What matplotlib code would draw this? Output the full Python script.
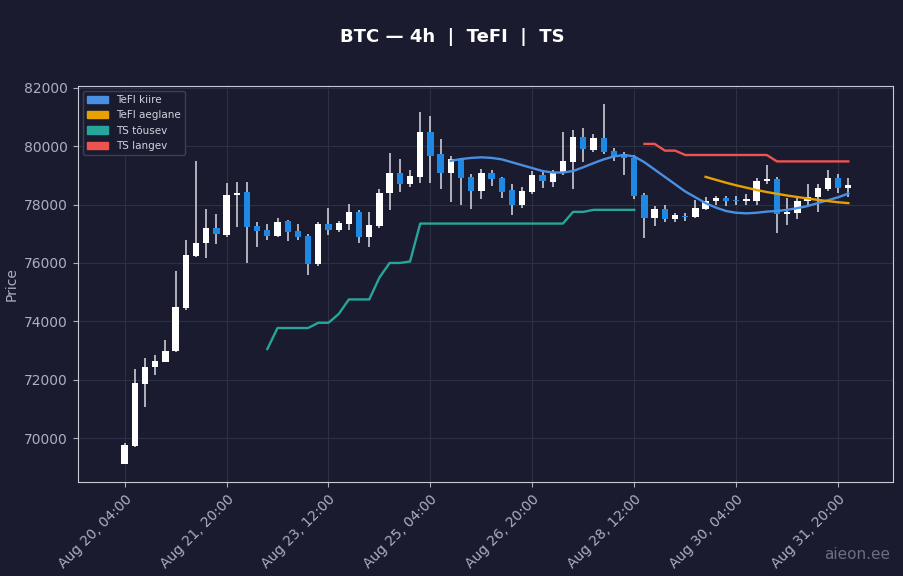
import numpy as np
import pandas as pd
import matplotlib
matplotlib.use("Agg")
import matplotlib.pyplot as plt
from matplotlib.patches import Patch

# 4h candles starting Aug 20 04:00
start = "2024-08-20 04:00"
opens = [69110, 69730, 71850, 72430, 72600, 72980, 74460, 76240, 76690, 77200,
         76960, 78320, 78430, 77270, 77130, 76930, 77440, 77100, 76930, 75960,
         77340, 77130, 77340, 77750, 76890, 77270, 78400, 79090, 78710, 78950,
         80490, 79740, 79090, 79530, 78950, 78470, 79090, 78910, 78500, 77990,
         78430, 79020, 78780, 79090, 79470, 80320, 79870, 80290, 79840, 79740,
         79600, 78330, 77540, 77850, 77510, 77620, 77580, 77850, 78130, 78230,
         78150, 78120, 78130, 78810, 78880, 77680, 77720, 78130, 78270, 78540,
         78900, 78570]
closes = [69760, 71880, 72430, 72640, 72980, 74490, 76270, 76690, 77200, 76990,
          78330, 78400, 77230, 77100, 76930, 77400, 77060, 76890, 75970, 77340,
          77130, 77370, 77750, 76890, 77300, 78400, 79090, 78710, 78980, 80490,
          79670, 79090, 79570, 78910, 78470, 79090, 78880, 78430, 77990, 78470,
          79020, 78810, 79090, 79500, 80320, 79910, 80290, 79810, 79670, 79600,
          78300, 77540, 77850, 77510, 77650, 77580, 77890, 78130, 78230, 78130,
          78120, 78200, 78810, 78880, 77680, 77750, 78130, 78270, 78570, 78900,
          78570, 78670]
highs = [69830, 72370, 72740, 72850, 73360, 75730, 76790, 79500, 77860, 77680,
         78740, 78780, 78780, 77400, 77330, 77540, 77480, 77330, 77000, 77400,
         77880, 77450, 78030, 77800, 77750, 78540, 79780, 79560, 79200, 81180,
         81030, 80260, 79650, 79600, 79050, 79230, 79200, 78950, 78710, 78600,
         79150, 79100, 79200, 80490, 80560, 80630, 80420, 81450, 79950, 79800,
         79700, 78400, 77950, 78000, 77700, 77700, 78150, 78250, 78300, 78300,
         78300, 78350, 78900, 79360, 78950, 78230, 78250, 78700, 78700, 79200,
         79050, 78900]
lows = [69100, 69700, 71060, 72170, 72850, 72950, 74400, 76200, 76170, 76650,
        76900, 77230, 76000, 76550, 76800, 76900, 76760, 76790, 75590, 75900,
        76950, 77050, 77140, 76700, 76550, 77200, 77800, 78440, 78600, 78740,
        78740, 78530, 78090, 77990, 77850, 78190, 78640, 78230, 77650, 77900,
        78350, 78570, 78600, 79000, 78530, 79460, 79800, 79750, 79500, 79020,
        78200, 76860, 77270, 77400, 77400, 77450, 77550, 77800, 78000, 77950,
        78000, 78000, 78000, 78700, 77030, 77300, 77500, 77950, 77750, 78450,
        78400, 78250]

# indicators (start index, values)
ts_up_start = 14
ts_up = [73050, 73770, 73770, 73770, 73770, 73950, 73950, 74250, 74750, 74750,
         74750, 75500, 76000, 76000, 76050, 77350, 77350, 77350, 77350, 77350,
         77350, 77350, 77350, 77350, 77350, 77350, 77350, 77350, 77350, 77350,
         77750, 77750, 77820, 77820, 77820, 77820, 77820]
ts_down_start = 51
ts_down = [80080, 80080, 79850, 79850, 79700, 79700, 79700, 79700, 79700, 79700,
           79700, 79700, 79700, 79480, 79480, 79480, 79480, 79480, 79480, 79480,
           79480]
tefi_fast_start = 32
tefi_fast = [79500, 79560, 79600, 79620, 79600, 79550, 79450, 79350, 79250, 79150,
             79100, 79100, 79150, 79280, 79420, 79550, 79650, 79700, 79650, 79450,
             79200, 78950, 78700, 78450, 78250, 78050, 77900, 77780, 77720, 77700,
             77720, 77760, 77780, 77820, 77880, 77950, 78050, 78150, 78250, 78380]
tefi_slow_start = 57
tefi_slow = [78950, 78850, 78750, 78660, 78580, 78500, 78430, 78370, 78310, 78260,
             78210, 78160, 78120, 78080, 78050]

BG = "#1a1b2e"
UP = "#ffffff"
DOWN = "#1e88e5"

fig = plt.figure(figsize=(9.04, 5.76), dpi=100, facecolor=BG)
ax = fig.add_axes([0.086, 0.163, 0.902, 0.688], facecolor=BG)

x = np.arange(len(opens))
o, c, h, l = map(np.array, (opens, closes, highs, lows))
col = np.where(c >= o, UP, DOWN)
ax.vlines(x, l, h, colors="#d8dbe3", lw=1.1, zorder=2)
ax.bar(x, np.maximum(np.abs(c - o), 30), bottom=np.minimum(o, c), width=0.62,
       color=col, zorder=3)

def line(s, vals, color):
    xs = np.arange(s, s + len(vals))
    ax.plot(xs, vals, color=color, lw=1.7, zorder=4)

line(ts_up_start, ts_up, "#26a69a")
line(ts_down_start, ts_down, "#ef5350")
line(tefi_fast_start, tefi_fast, "#4a90e2")
line(tefi_slow_start, tefi_slow, "#e6a100")

ax.set_xlim(-4.6, 75.4)
ax.set_ylim(68490, 82070)
ticks = np.arange(0, 71, 10)
dates = pd.date_range(start, periods=len(opens), freq="4h")
ax.set_xticks(ticks)
ax.set_xticklabels([dates[i].strftime("%b %d, %H:%M") for i in ticks],
                   rotation=45, ha="right", rotation_mode="anchor")
ax.set_yticks(np.arange(70000, 82001, 2000))
ax.tick_params(colors="#aab0bf", labelsize=10)
for sp in ax.spines.values():
    sp.set_color("#c8ccd6")
ax.grid(True, color="#2c3045", lw=0.8)
ax.set_axisbelow(True)
ax.set_ylabel("Price", color="#aab0bf", fontsize=10)

handles = [Patch(color="#4a90e2", label="TeFI kiire"),
           Patch(color="#e6a100", label="TeFI aeglane"),
           Patch(color="#26a69a", label="TS tõusev"),
           Patch(color="#ef5350", label="TS langev")]
leg = ax.legend(handles=handles, loc="upper left", fontsize=7.5, facecolor=BG,
                edgecolor="#3a3f55", labelcolor="#d0d4de", framealpha=1)

fig.text(0.5, 0.935, "BTC — 4h  |  TeFI  |  TS", ha="center", va="center",
         color="white", fontsize=13, fontweight="bold")
fig.text(0.985, 0.025, "aieon.ee", ha="right", va="bottom", color="#6b7080", fontsize=11)

fig.savefig("out.png", dpi=100, facecolor=BG)
